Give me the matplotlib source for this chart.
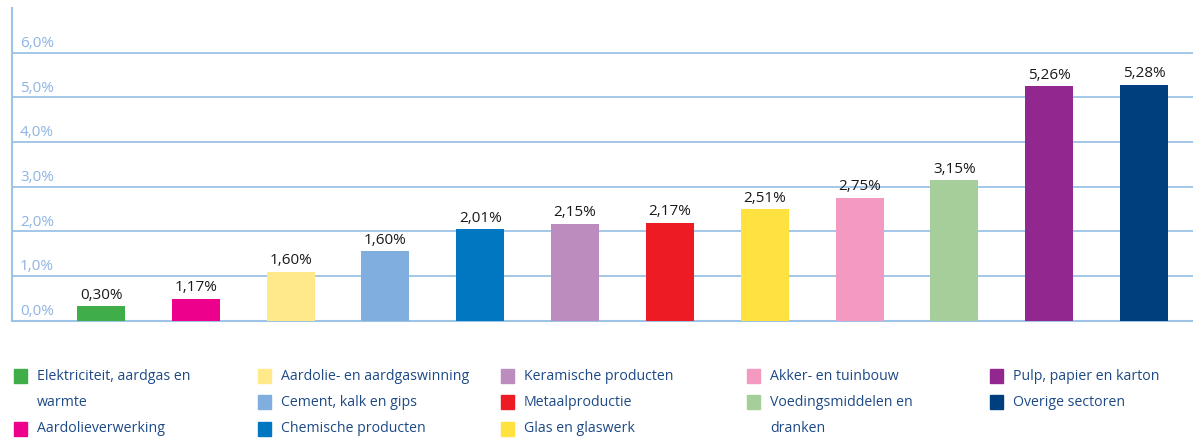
import matplotlib.pyplot as plt
from matplotlib.patches import Rectangle
from matplotlib.transforms import blended_transform_factory

plt.rcParams['font.family'] = ['Open Sans', 'DejaVu Sans']

# Sectors (order of the bars); "\n" marks where the legend wraps
sectors = [
    "Elektriciteit, aardgas en\nwarmte",
    "Aardolieverwerking",
    "Aardolie- en aardgaswinning",
    "Cement, kalk en gips",
    "Chemische producten",
    "Keramische producten",
    "Metaalproductie",
    "Glas en glaswerk",
    "Akker- en tuinbouw",
    "Voedingsmiddelen en\ndranken",
    "Pulp, papier en karton",
    "Overige sectoren",
]
# bar heights as drawn (%)
heights = [0.32, 0.49, 1.10, 1.55, 2.05, 2.17, 2.19, 2.50, 2.75, 3.14, 5.25, 5.28]
# printed data labels
value_labels = ["0,30%", "1,17%", "1,60%", "1,60%", "2,01%", "2,15%",
                "2,17%", "2,51%", "2,75%", "3,15%", "5,26%", "5,28%"]
colors = ["#3fae49", "#ec008c", "#ffe98a", "#80afdf", "#0077c0", "#bc8cbf",
          "#ed1c24", "#ffe13f", "#f49ac1", "#a6ce9a", "#92278f", "#003f7d"]

yticks = [0, 1, 2, 3, 4, 5, 6]
ytick_labels = ["0,0%", "1,0%", "2,0%", "3,0%", "4,0%", "5,0%", "6,0%"]

# legend layout: (bar index, column, row)
legend_slots = [(0, 0, 0), (1, 0, 2),
                (2, 1, 0), (3, 1, 1), (4, 1, 2),
                (5, 2, 0), (6, 2, 1), (7, 2, 2),
                (8, 3, 0), (9, 3, 1),
                (10, 4, 0), (11, 4, 1)]

grid_col = "#9dc3e6"
tick_col = "#8fb4e3"
legend_text_col = "#1d4a87"

W, H = 1193, 438
fig = plt.figure(figsize=(W / 100, H / 100), dpi=100)
ax = fig.add_axes([12 / W, (H - 320.7) / H, 1 - 12 / W, (320.7 - 8) / H])

x = range(len(heights))
bars = ax.bar(x, heights, width=0.506, color=colors, zorder=3)

for b, lab in zip(bars, value_labels):
    ax.annotate(lab, (b.get_x() + b.get_width() / 2, b.get_height()),
                xytext=(0, 2.5), textcoords="offset points",
                ha="center", va="bottom", fontsize=11, color="#1a1a1a")

ax.set_xlim(-0.939, 11.517)
ax.set_ylim(0, 7)
ax.set_yticks(yticks)
ax.set_yticklabels([])
ax.set_xticks([])
ax.tick_params(left=False, bottom=False)
ax.grid(axis="y", color=grid_col, linewidth=1.3, zorder=0)
for s in ["top", "right"]:
    ax.spines[s].set_visible(False)
for s in ["left", "bottom"]:
    ax.spines[s].set_color(grid_col)
    ax.spines[s].set_linewidth(1.5)

# y tick labels sit inside the plot, just above each grid line
trans = blended_transform_factory(ax.transAxes, ax.transData)
for v, lab in zip(yticks, ytick_labels):
    ax.text(8 / (W - 12), v + 0.04, lab, transform=trans, ha="left", va="bottom",
            fontsize=11, color=tick_col)

# legend, laid out by hand in five columns
col_x = [14, 258, 501, 747, 990]
row_y = [376, 402, 429]
for idx, c, r in legend_slots:
    px, py = col_x[c], row_y[r]
    fig.patches.append(Rectangle((px / W, (H - py - 7) / H), 13 / W, 14 / H,
                                 transform=fig.transFigure, color=colors[idx]))
    for k, line in enumerate(sectors[idx].split("\n")):
        fig.text((px + 23) / W, (H - row_y[r + k]) / H, line, ha="left", va="center",
                 fontsize=10.2, color=legend_text_col)

fig.savefig("out.png", dpi=100)
